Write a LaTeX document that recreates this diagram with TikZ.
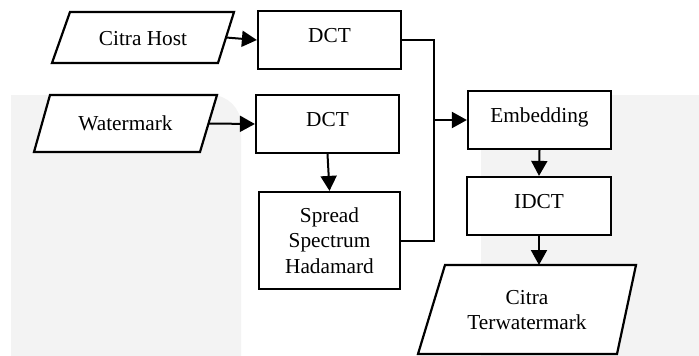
\documentclass[tikz,border=0pt]{standalone}
\usepackage{fontspec}
\setmainfont{Liberation Serif}
\usetikzlibrary{arrows.meta}
\definecolor{bgg}{RGB}{243,243,243}
\begin{document}
\begin{tikzpicture}[x=1pt,y=-1pt,
 font=\fontsize{21.3}{25.5}\selectfont,
 box/.style={draw, line width=2.2pt, fill=white, minimum width=143pt, minimum height=58pt, inner sep=0pt, align=center},
 lbl/.style={text height=15pt, text depth=11pt},
 paraline/.style={draw, line width=2.2pt, fill=white, line join=miter},
 ptext/.style={inner sep=0pt, align=center},
 conn/.style={line width=2pt},
 arr/.style={conn, -{Triangle[length=15pt,width=16pt]}}]
\useasboundingbox (0,0) rectangle (699,356);
\fill[bgg] (11,356) -- (11,95) -- (211,95) .. controls (227.6,95) and (241,108.4) .. (241,125) -- (241,356) -- cycle;
\fill[bgg] (699,356) -- (699,95) -- (511,95) .. controls (494.4,95) and (481,108.4) .. (481,125) -- (481,356) -- cycle;

% parallelograms
\path[paraline] (70,12) -- (234,12) -- (218,63) -- (52,63) -- cycle;
\node[ptext] (host) at (143,39) {Citra Host};
\coordinate (hostE) at (226,37.5);

\path[paraline] (50,95) -- (217,95) -- (200,152) -- (34,152) -- cycle;
\node[ptext] (wm) at (125.5,123.5) {Watermark};
\coordinate (wmE) at (208.5,123.5);

\path[paraline] (445,265) -- (636,265) -- (617,354) -- (418,354) -- cycle;
\node[ptext] (out) at (527,310) {Citra\\Terwatermark};
\coordinate (outN) at (539,265);

% boxes
\node[box, lbl] (dct1) at (329.5,40) {DCT};
\node[box, lbl] (dct2) at (327.5,124) {DCT};
\node[box, minimum width=141pt, minimum height=97pt] (spread) at (329.5,240.5) {Spread\\Spectrum\\Hadamard};
\node[box, lbl] (emb) at (539.5,120) {Embedding};
\node[box, lbl, minimum width=144pt] (idct) at (539,206) {IDCT};

\coordinate (j) at (434,120);
\draw[conn] (dct1.east) -| (j);
\draw[conn] (spread.east) -| (j);
\draw[arr] (j) -- (emb.west);
\draw[arr] (hostE) -- (dct1.west);
\draw[arr] (wmE) -- (dct2.west);
\draw[arr] (dct2.south) -- (spread.north);
\draw[arr] (emb.south) -- (idct.north);
\draw[arr] (idct.south) -- (outN);
\end{tikzpicture}
\end{document}
